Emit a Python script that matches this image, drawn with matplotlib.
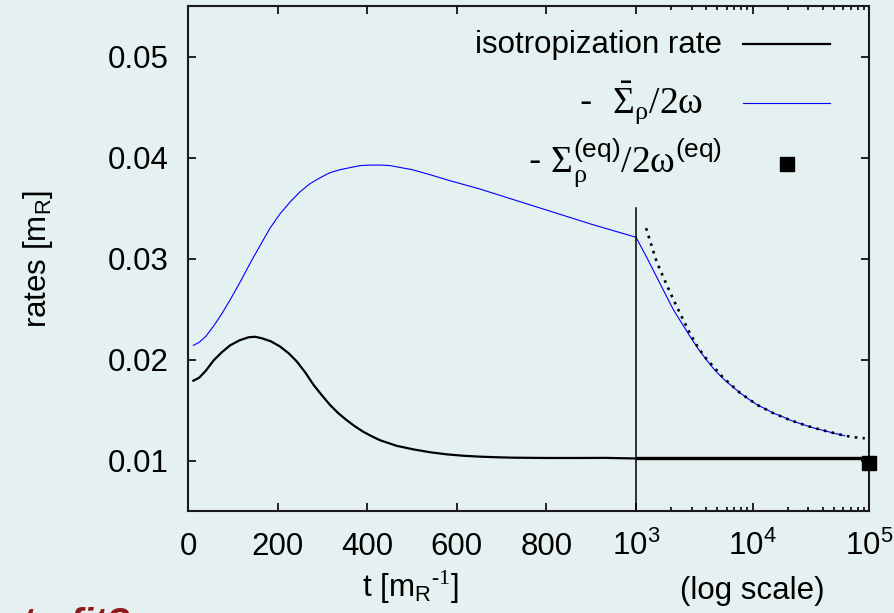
import numpy as np
import matplotlib
matplotlib.use("Agg")
import matplotlib.pyplot as plt
from matplotlib.lines import Line2D

plt.rcParams['font.family'] = ['Liberation Sans', 'DejaVu Sans']
plt.rcParams['mathtext.fontset'] = 'custom'
plt.rcParams['mathtext.rm'] = 'Liberation Serif'
plt.rcParams['mathtext.it'] = 'Liberation Serif:italic'
plt.rcParams['mathtext.sf'] = 'Liberation Sans'
plt.rcParams['mathtext.default'] = 'regular'

# ---------------- data ----------------
# linear part (t <= 1000)
t_iso_lin = [12, 25, 40, 57, 75, 94, 115, 135, 150, 165, 185, 205, 225, 243,
             262, 280, 298, 317, 335, 354, 372, 391, 410, 429, 466, 503, 540,
             577, 615, 652, 690, 726, 800, 875, 930, 1000]
iso_lin = [0.0179, 0.0182, 0.0189, 0.0199, 0.0207, 0.0214, 0.0219, 0.0222,
           0.02225, 0.0221, 0.0218, 0.0213, 0.0206, 0.0198, 0.0187, 0.0175,
           0.0165, 0.0155, 0.0147, 0.0140, 0.0134, 0.01285, 0.0124, 0.0120,
           0.01145, 0.0111, 0.01082, 0.01061, 0.01047, 0.01038, 0.01032,
           0.01028, 0.01025, 0.01025, 0.01026, 0.0102]

t_sig_lin = [12, 25, 40, 57, 75, 94, 118, 142, 165, 183, 205, 228, 250, 272,
             295, 317, 340, 362, 385, 406, 430, 451, 475, 500, 540, 585, 650,
             700, 800, 900, 1000]
sig_lin = [0.0214, 0.0217, 0.0223, 0.0233, 0.0245, 0.0259, 0.0278, 0.0298,
           0.0316, 0.0330, 0.0344, 0.0356, 0.0366, 0.0374, 0.0380, 0.0385,
           0.0388, 0.0390, 0.0392, 0.03925, 0.03925, 0.0392, 0.0390, 0.0388,
           0.0383, 0.0377, 0.0369, 0.0362, 0.0348, 0.0334, 0.0321]

# log part (t >= 1000)
t_sig_log = [1000, 1250, 1500, 1800, 2100, 2500, 2900, 3400, 4000, 4700, 5600,
             6600, 7800, 9200, 11000, 13000, 15000, 18000, 21000, 25000, 29000,
             34000, 40000, 50000, 62000]
sig_log = [0.0321, 0.0300, 0.0282, 0.0264, 0.0249, 0.0235, 0.0223, 0.0211,
           0.0200, 0.0190, 0.0181, 0.0174, 0.0167, 0.0161, 0.0155, 0.0151,
           0.0147, 0.01435, 0.0140, 0.0137, 0.01345, 0.0132, 0.0130, 0.0127,
           0.01245]

t_fit = [1220, 1500, 1800, 2100, 2500, 2900, 3400, 4000, 5600, 7800, 11000,
         15000, 21000, 29000, 40000, 62000, 75000, 92000]
fit_vals = [0.0330, 0.0297, 0.0276, 0.0259, 0.0241, 0.0226, 0.0212, 0.0201,
            0.0182, 0.0167, 0.0155, 0.0147, 0.0140, 0.01345, 0.0130, 0.01245,
            0.0123, 0.0122]

t_iso_log = [1000, 100000]
iso_log = [0.0102, 0.0102]

t_eq = [100000]
eq_vals = [0.0098]

t_split = 1000
x_ticks = [0, 200, 400, 600, 800, 1000, 10000, 100000]
x_ticklabels = ['0', '200', '400', '600', '800', '$10^3$', '$10^4$', '$10^5$']
x_minor = [2000, 3000, 4000, 5000, 6000, 7000, 8000, 9000,
           20000, 30000, 40000, 50000, 60000, 70000, 80000, 90000]
y_ticks = [0.01, 0.02, 0.03, 0.04, 0.05]
y_ticklabels = ['0.01', '0.02', '0.03', '0.04', '0.05']

# ---------------- scale: linear up to 1000, log beyond ----------------
K = 0.26  # width of one decade relative to the linear 0..1000 span


def fwd(t):
    t = np.asarray(t, dtype=float)
    tl = np.maximum(t, t_split)
    return np.where(t <= t_split, t / t_split, 1 + K * np.log10(tl / t_split))


def inv(u):
    u = np.asarray(u, dtype=float)
    ul = np.maximum(u, 1.0)
    return np.where(u <= 1, u * t_split, t_split * 10 ** ((ul - 1) / K))


BG = '#e5f0f0'
fig = plt.figure(figsize=(8.94, 6.13), dpi=100, facecolor=BG)
ax = fig.add_axes([188 / 894, 1 - 511 / 613, 681 / 894, 505 / 613])
ax.set_facecolor(BG)
ax.set_xscale('function', functions=(fwd, inv))
ax.set_xlim(0, 100000)
ax.set_ylim(0.005, 0.055)

ax.plot(t_iso_lin, iso_lin, color='black', lw=1.6)
ax.plot(t_sig_lin, sig_lin, color='#0000ff', lw=0.8)
ax.plot(t_sig_log, sig_log, color='#0000ff', lw=0.8)
ax.plot(t_fit, fit_vals, color='black', lw=1.9, linestyle=(0, (1, 2.0)))
ax.plot(t_iso_log, iso_log, color='black', lw=2.4, solid_capstyle='butt')
ax.plot(t_eq, eq_vals, linestyle='none', marker='s', color='black',
        markersize=9.5, clip_on=False, zorder=5)
ax.axvline(t_split, ymax=0.6, color='black', lw=1.1)

for s in ax.spines.values():
    s.set_linewidth(1.5)
    s.set_color('#1a1a1a')

ax.set_xticks(x_ticks)
ax.set_xticklabels(x_ticklabels)
ax.set_xticks(x_minor, minor=True)
ax.set_yticks(y_ticks)
ax.set_yticklabels(y_ticklabels)
ax.tick_params(which='both', direction='in', top=True, right=True,
               labelsize=22.5, width=1.2, colors='black')
ax.tick_params(which='major', length=6)
ax.tick_params(which='minor', length=3)
ax.tick_params(axis='y', pad=14)
ax.tick_params(axis='x', pad=32)
for tk in ax.xaxis.get_major_ticks():
    tk.label1.set_verticalalignment('baseline')

ax.set_ylabel('rates [m$_R$]', fontsize=22.5)
ax.yaxis.set_label_coords(-0.195, 0.5)

fig.text(410 / 894, 1 - 597 / 613, r't [m$_R{}^{\text{-1}}$]', fontsize=22.5,
         ha='center', va='baseline')
fig.text(752 / 894, 1 - 599 / 613, '(log scale)', fontsize=22.5,
         ha='center', va='baseline')

# legend (drawn manually, right-aligned text with samples to the right)
def ax_xy(px, py):
    return (px - 188) / 681, (511 - py) / 505

tx, ty = ax_xy(722, 53)
ax.text(tx, ty, 'isotropization rate', transform=ax.transAxes, fontsize=22.5,
        ha='right', va='baseline')
x0, y0 = ax_xy(743, 44)
x1, _ = ax_xy(830, 44)
ax.add_line(Line2D([x0, x1], [y0, y0], transform=ax.transAxes, color='black', lw=1.6))

tx, ty = ax_xy(703, 113)
ax.text(tx, ty, r'-  $\bar{\mathrm{\Sigma}}_{\mathrm{\rho}}\mathrm{/2\omega}$',
        transform=ax.transAxes, fontsize=27, ha='right', va='baseline')
_, y0 = ax_xy(0, 102.7)
ax.add_line(Line2D([x0, x1], [y0, y0], transform=ax.transAxes, color='#0000ff', lw=0.8))

tx, ty = ax_xy(722, 173)
ax.text(tx, ty, r'- $\mathrm{\Sigma}_{\mathrm{\rho}}^{(eq)}\mathrm{/2\omega}^{(eq)}$',
        transform=ax.transAxes, fontsize=27, ha='right', va='baseline')
mx, my = ax_xy(787, 164)
ax.add_line(Line2D([mx], [my], transform=ax.transAxes, color='black',
                   marker='s', markersize=9.5, linestyle='none'))

fig.text(22 / 894, -22 / 613, 'to fit?', color='#8b1a1a', fontsize=28,
         fontweight='bold', fontstyle='italic', ha='left', va='baseline')

fig.savefig('out.png', dpi=100, facecolor=BG)
